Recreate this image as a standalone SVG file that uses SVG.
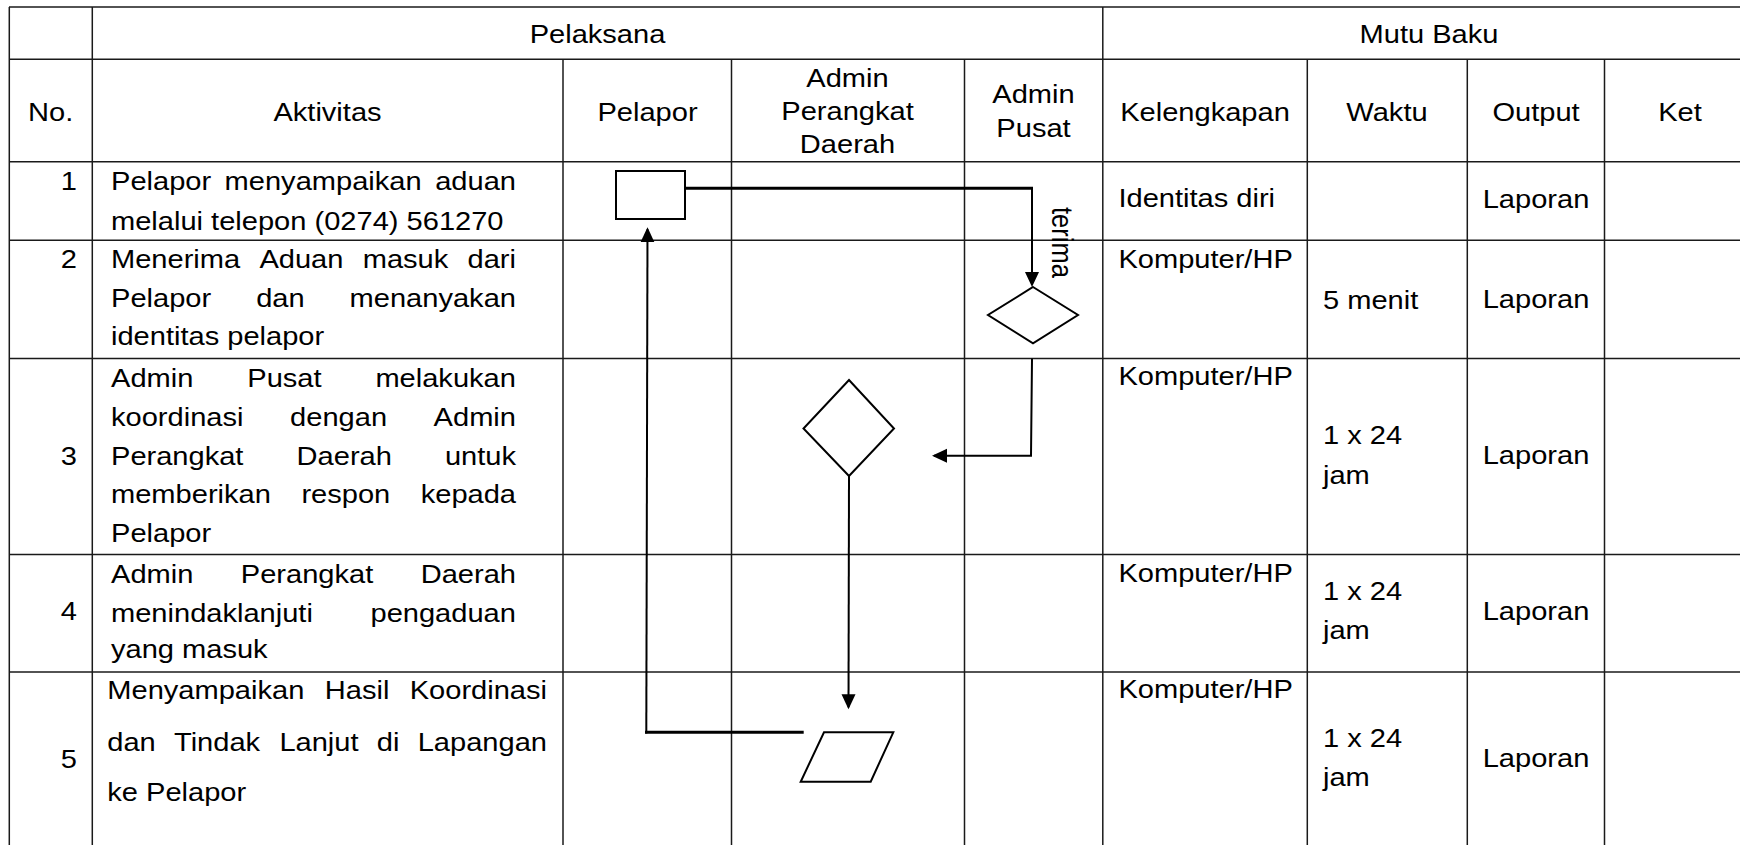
<svg xmlns="http://www.w3.org/2000/svg" width="1740" height="845" viewBox="0 0 1740 845">
<defs>
<style>
.t{font-family:"Liberation Sans",Arial,sans-serif;font-size:25.5px;fill:#000}
.m{text-anchor:middle}
.e{text-anchor:end}
.grid line{stroke:#1a1a1a;stroke-width:1.5}
.shape{fill:#fff;stroke:#000;stroke-width:2}
.c{fill:none;stroke:#000;stroke-width:2}
.cb{fill:none;stroke:#000;stroke-width:3}
</style>
<marker id="ah" markerUnits="userSpaceOnUse" markerWidth="16" markerHeight="16" viewBox="0 0 16 16" refX="13" refY="8" orient="auto">
<path d="M0,1 L15,8 L0,15 z" fill="#000"/>
</marker>
</defs>
<rect width="1740" height="845" fill="#fff"/>

<g id="table" class="grid">
<line x1="9" y1="7" x2="1740" y2="7"/>
<line x1="9" y1="59.3" x2="1740" y2="59.3"/>
<line x1="9" y1="161.7" x2="1740" y2="161.7"/>
<line x1="9" y1="240.3" x2="1740" y2="240.3"/>
<line x1="9" y1="358.5" x2="1740" y2="358.5"/>
<line x1="9" y1="554.5" x2="1740" y2="554.5"/>
<line x1="9" y1="672" x2="1740" y2="672"/>
<line x1="9.3" y1="7" x2="9.3" y2="845"/>
<line x1="92.3" y1="7" x2="92.3" y2="845"/>
<line x1="1102.8" y1="7" x2="1102.8" y2="845"/>
<line x1="563" y1="59.3" x2="563" y2="845"/>
<line x1="731.5" y1="59.3" x2="731.5" y2="845"/>
<line x1="964.5" y1="59.3" x2="964.5" y2="845"/>
<line x1="1307.3" y1="59.3" x2="1307.3" y2="845"/>
<line x1="1467.3" y1="59.3" x2="1467.3" y2="845"/>
<line x1="1604.5" y1="59.3" x2="1604.5" y2="845"/>
</g>

<g id="headers">
<text class="t m" transform="translate(597.5 43.3) scale(1.14 1)">Pelaksana</text>
<text class="t m" transform="translate(1429 43.3) scale(1.14 1)">Mutu Baku</text>
<text class="t m" transform="translate(50.7 120.7) scale(1.14 1)">No.</text>
<text class="t m" transform="translate(327.5 120.7) scale(1.14 1)">Aktivitas</text>
<text class="t m" transform="translate(647.5 120.7) scale(1.14 1)">Pelapor</text>
<text class="t m" transform="translate(847.5 86.7) scale(1.14 1)">Admin</text>
<text class="t m" transform="translate(847.5 120) scale(1.14 1)">Perangkat</text>
<text class="t m" transform="translate(847.5 153.3) scale(1.14 1)">Daerah</text>
<text class="t m" transform="translate(1033.5 103.3) scale(1.14 1)">Admin</text>
<text class="t m" transform="translate(1033.5 136.7) scale(1.14 1)">Pusat</text>
<text class="t m" transform="translate(1205 120.7) scale(1.14 1)">Kelengkapan</text>
<text class="t m" transform="translate(1387 120.7) scale(1.14 1)">Waktu</text>
<text class="t m" transform="translate(1536 120.7) scale(1.14 1)">Output</text>
<text class="t m" transform="translate(1680 120.7) scale(1.14 1)">Ket</text>
</g>

<g id="numbers">
<text class="t e" transform="translate(77 190) scale(1.14 1)">1</text>
<text class="t e" transform="translate(77 268.3) scale(1.14 1)">2</text>
<text class="t e" transform="translate(77 465) scale(1.14 1)">3</text>
<text class="t e" transform="translate(77 620) scale(1.14 1)">4</text>
<text class="t e" transform="translate(77 767.7) scale(1.14 1)">5</text>
</g>

<g id="activities">
<text class="t" transform="translate(0 190) scale(1.14 1)"><tspan x="97.37">Pelapor</tspan><tspan x="197.02">menyampaikan</tspan><tspan x="381.75">aduan</tspan></text>
<text class="t" transform="translate(0 230) scale(1.14 1)"><tspan x="97.37">melalui telepon (0274) 561270</tspan></text>

<text class="t" transform="translate(0 268.3) scale(1.14 1)"><tspan x="97.37">Menerima</tspan><tspan x="227.54">Aduan</tspan><tspan x="318.16">masuk</tspan><tspan x="410.09">dari</tspan></text>
<text class="t" transform="translate(0 307) scale(1.14 1)"><tspan x="97.37">Pelapor</tspan><tspan x="224.74">dan</tspan><tspan x="306.67">menanyakan</tspan></text>
<text class="t" transform="translate(0 345) scale(1.14 1)"><tspan x="97.37">identitas pelapor</tspan></text>

<text class="t" transform="translate(0 386.7) scale(1.14 1)"><tspan x="97.37">Admin</tspan><tspan x="216.93">Pusat</tspan><tspan x="329.30">melakukan</tspan></text>
<text class="t" transform="translate(0 426) scale(1.14 1)"><tspan x="97.37">koordinasi</tspan><tspan x="254.47">dengan</tspan><tspan x="380.35">Admin</tspan></text>
<text class="t" transform="translate(0 465) scale(1.14 1)"><tspan x="97.37">Perangkat</tspan><tspan x="260.18">Daerah</tspan><tspan x="390.26">untuk</tspan></text>
<text class="t" transform="translate(0 503.3) scale(1.14 1)"><tspan x="97.37">memberikan</tspan><tspan x="264.39">respon</tspan><tspan x="369.04">kepada</tspan></text>
<text class="t" transform="translate(0 541.7) scale(1.14 1)"><tspan x="97.37">Pelapor</tspan></text>

<text class="t" transform="translate(0 583.3) scale(1.14 1)"><tspan x="97.37">Admin</tspan><tspan x="211.23">Perangkat</tspan><tspan x="369.04">Daerah</tspan></text>
<text class="t" transform="translate(0 621.7) scale(1.14 1)"><tspan x="97.37">menindaklanjuti</tspan><tspan x="325.0">pengaduan</tspan></text>
<text class="t" transform="translate(0 658.3) scale(1.14 1)"><tspan x="97.37">yang masuk</tspan></text>

<text class="t" transform="translate(0 699) scale(1.14 1)"><tspan x="94.12">Menyampaikan</tspan><tspan x="284.91">Hasil</tspan><tspan x="359.39">Koordinasi</tspan></text>
<text class="t" transform="translate(0 751) scale(1.14 1)"><tspan x="94.12">dan</tspan><tspan x="152.63">Tindak</tspan><tspan x="245.09">Lanjut</tspan><tspan x="330.53">di</tspan><tspan x="366.40">Lapangan</tspan></text>
<text class="t" transform="translate(0 801) scale(1.14 1)"><tspan x="94.12">ke Pelapor</tspan></text>
</g>

<g id="mutu-baku">
<text class="t" transform="translate(1118.4 207) scale(1.14 1)">Identitas diri</text>
<text class="t" transform="translate(1118.4 268.3) scale(1.14 1)">Komputer/HP</text>
<text class="t" transform="translate(1118.4 385.2) scale(1.14 1)">Komputer/HP</text>
<text class="t" transform="translate(1118.4 581.5) scale(1.14 1)">Komputer/HP</text>
<text class="t" transform="translate(1118.4 698) scale(1.14 1)">Komputer/HP</text>
<text class="t" transform="translate(1323 308.5) scale(1.14 1)">5 menit</text>
<text class="t" transform="translate(1323 444.2) scale(1.14 1)">1 x 24</text>
<text class="t" transform="translate(1323 483.5) scale(1.14 1)">jam</text>
<text class="t" transform="translate(1323 599.6) scale(1.14 1)">1 x 24</text>
<text class="t" transform="translate(1323 639) scale(1.14 1)">jam</text>
<text class="t" transform="translate(1323 746.6) scale(1.14 1)">1 x 24</text>
<text class="t" transform="translate(1323 786) scale(1.14 1)">jam</text>
<text class="t m" transform="translate(1536 208) scale(1.14 1)">Laporan</text>
<text class="t m" transform="translate(1536 308) scale(1.14 1)">Laporan</text>
<text class="t m" transform="translate(1536 464) scale(1.14 1)">Laporan</text>
<text class="t m" transform="translate(1536 620) scale(1.14 1)">Laporan</text>
<text class="t m" transform="translate(1536 766.5) scale(1.14 1)">Laporan</text>
</g>

<g id="connectors">
<path class="cb" d="M685,188.3 L1033,188.3"/>
<path class="c" d="M1032,187 L1032,285" marker-end="url(#ah)"/>
<text class="t" transform="translate(1051.5 207) scale(1.14 1) rotate(90)">terima</text>
<path class="c" d="M1032,358.5 L1031,455.7 L934,455.7" marker-end="url(#ah)"/>
<path class="c" d="M849,476 L848.5,707.3" marker-end="url(#ah)"/>
<path class="cb" d="M803.7,732.3 L645,732.3"/>
<path class="c" d="M646.3,733.5 L647.5,229.3" marker-end="url(#ah)"/>
</g>

<g id="node-lapor">
<rect class="shape" x="616" y="171" width="69" height="48"/>
</g>
<g id="node-terima">
<polygon class="shape" points="1033,287 1078,315 1033,343.3 988,315"/>
</g>
<g id="node-koordinasi">
<polygon class="shape" points="849,380 894,428.5 849,476 803.5,428.5"/>
</g>
<g id="node-hasil">
<polygon class="shape" points="824,732.3 893.3,732.3 870.7,781.7 800.7,781.7"/>
</g>
</svg>
